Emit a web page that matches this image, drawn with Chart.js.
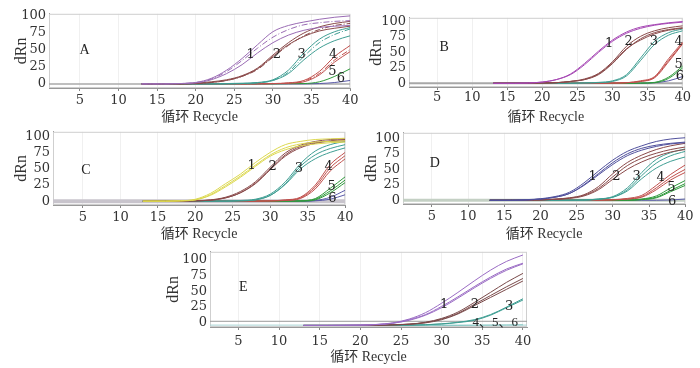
<!DOCTYPE html>
<html>
<head>
<meta charset="utf-8">
<script src="https://cdn.jsdelivr.net/npm/chart.js@4"></script>
<style>
body { margin: 0; background: #fff; width: 700px; height: 368px; position: relative; overflow: hidden; }
canvas { position: absolute; }
</style>
</head>
<body>
<script>
const cycles = [13, 16, 18, 20, 22, 24, 26, 28, 30, 32, 34, 36, 38, 40];
const xTitle = '循环 Recycle';
const yTitle = 'dRn';
const groupNames = ['1', '2', '3', '4', '5', '6'];

// panel A, replicates per dilution group
const A1 = [[0,0,0.5,2,8,20,37,57,76,85,90,94,97,99],
            [0,0,0.5,2,7,18,34,52,68,79,86,89,91,92],
            [0,0,0.5,1.5,6,15,28,45,60,71,78,82,84,85]];
const A2 = [[0,0,0,1,3,6,12,23,42,60,74,83,88,91],
            [0,0,0,0.5,2,5,11,21,39,56,70,79,85,88],
            [0,0,0,0.5,2,5,11,22,40,57,69,77,81,84]];
const A3 = [[0,0,0,0,0,0.5,1,2,6,20,45,65,76,82],
            [0,0,0,0,0,0,0.5,1.5,5,17,40,60,72,80],
            [0,0,0,0,0,0,0.5,1.5,5,15,35,52,63,70]];
const A4 = [[0,0,0,0,0,0,0,0.3,0.5,1.5,5,18,40,56],
            [0,0,0,0,0,0,0,0,0.5,1,4,15,35,50],
            [0,0,0,0,0,0,0,0,0.3,1,3,13,32,47]];
const A5 = [[0,0,0,0,0,0,0,0,0,0.3,0.5,3,11,22]];
const A6 = [[0,0,0,0,0,0,0,0,0,0,0,0.5,2,5]];

// panel B
const B1 = [[0,0,0.5,2,6,15,32,52,70,83,91,95,98,100],
            [0,0,0.5,2,6,14,30,50,68,81,89,94,97,99]];
const B2 = [[0,0,0,0.5,1,3,7,16,35,60,76,85,90,93],
            [0,0,0,0.5,1,3,6,14,32,55,72,82,87,90],
            [0,0,0,0.5,1,3,6,15,33,56,70,80,86,89]];
const B3 = [[0,0,0,0,0,0,0.5,1.5,4,14,41,68,82,88],
            [0,0,0,0,0,0,0.5,1,3,12,37,63,78,85]];
const B4 = [[0,0,0,0,0,0,0,0,0.5,1,4,11,40,67],
            [0,0,0,0,0,0,0,0,0.3,1,3,9,35,64],
            [0,0,0,0,0,0,0,0,0.3,1,3,10,37,65]];
const B5 = [[0,0,0,0,0,0,0,0,0,0,0.3,1.5,10,28],
            [0,0,0,0,0,0,0,0,0,0,0.3,1,8,25]];
const B6 = [[0,0,0,0,0,0,0,0,0,0,0,1,4,11]];

// panel C
const C1 = [[0,0,0.5,3,12,27,42,60,76,88,93,96,97,98],
            [0,0,0.5,2,10,24,39,56,72,83,89,92,93,94],
            [0,0,0.5,2,9,22,37,54,70,80,86,89,91,92]];
const C2 = [[0,0,0,0.5,2,6,15,30,53,75,87,93,96,97],
            [0,0,0,0.5,1.5,5,13,27,49,70,83,90,94,96],
            [0,0,0,0.5,1.5,5,13,28,50,72,85,91,93,94]];
const C3 = [[0,0,0,0,0,0,1,3,11,30,58,78,88,93],
            [0,0,0,0,0,0,0.5,2,9,27,54,72,82,88],
            [0,0,0,0,0,0,0.5,2,9,26,50,66,76,83]];
const C4 = [[0,0,0,0,0,0,0,0,0.5,2,6,25,57,76],
            [0,0,0,0,0,0,0,0,0.5,1.5,5,22,52,71],
            [0,0,0,0,0,0,0,0,0.3,1,4,19,47,66]];
const C5 = [[0,0,0,0,0,0,0,0,0,0,0.5,4,20,38],
            [0,0,0,0,0,0,0,0,0,0,0.5,3,16,33],
            [0,0,0,0,0,0,0,0,0,0,0,2,13,29]];
const C6 = [[0,0,0,0,0,0,0,0,0,0,0,1,6,17],
            [0,0,0,0,0,0,0,0,0,0,0,0.5,3,10]];

// panel D
const D1 = [[0,0,1,2.5,6,13,28,47,65,79,88,95,99,101],
            [0,0,0.5,2,5,11,25,43,61,75,84,89,92,94],
            [0,0,0.5,2,5,11,24,41,58,72,81,87,91,93]];
const D2 = [[0,0,0,0.5,2,4,9,22,43,61,73,82,88,92],
            [0,0,0,0.5,1.5,3.5,8,19,38,56,68,76,82,86],
            [0,0,0,0.5,1.5,3,7,17,34,50,62,71,78,82]];
const D3 = [[0,0,0,0,0,0,0.5,2,6,20,45,66,77,83],
            [0,0,0,0,0,0,0.5,2,5,17,40,60,72,79],
            [0,0,0,0,0,0,0,1.5,5,15,35,52,63,70]];
const D4 = [[0,0,0,0,0,0,0,0.5,1,3,8,24,42,57],
            [0,0,0,0,0,0,0,0,1,2,6,20,37,50],
            [0,0,0,0,0,0,0,0,0.5,2,5,17,33,45]];
const D5 = [[0,0,0,0,0,0,0,0,0,0.5,2,7,20,32],
            [0,0,0,0,0,0,0,0,0,0,1.5,5,16,27],
            [0,0,0,0,0,0,0,0,0,0,1,4,14,24]];
const D6 = [[0,0,0,0,0,0,0,0,0,0,0,0,0.5,2]];

// panel E (baseline sits below zero)
const E1 = [[-4,-4,-3.8,-3.5,-2.5,0,6,16,31,48,66,83,97,107],
            [-4,-4,-3.8,-3.5,-2.5,-0.5,5,13,26,41,57,72,85,94],
            [-4,-4,-3.8,-3.5,-2.8,-0.5,4,12,24,39,55,70,83,93]];
const E2 = [[-4,-4,-4,-4,-3.8,-3,-2,1,7,17,32,48,64,78],
            [-4,-4,-4,-4,-3.8,-3,-2,0.5,6,15,29,43,57,70],
            [-4,-4,-4,-4,-3.8,-3.2,-2.2,0,5,14,27,40,53,66]];
const E3 = [[-4,-4,-4,-4,-4,-4,-3.5,-3,-1.5,1,5,13,25,38],
            [-4,-4,-4,-4,-4,-4,-3.5,-3,-1.8,0.5,4,12,24,36]];
const E456 = [[-4,-4,-4,-4,-4,-4,-4,-4,-4,-4,-3.8,-3.6,-3.4,-3]];

const brown = '#8a4a4a', teal = '#3f9e93', red = '#c0504d', green = '#2f9a3c', blue = '#5a5aa8';

const panels = [
  { name: 'A', rect: [49, 9, 352, 88], x: [1, 40], y: [-6, 102],
    groups: [A1, A2, A3, A4, A5, A6],
    colors: ['#9a6cb4', brown, teal, red, green, blue],
    base: [{ v: 0, c: '#aaaaaa', w: 1.5 }],
    tickY: 100, titleY: 117, yTitleX: 22, letter: [5.6, 48.5],
    nums: [[27.1, 43], [30.5, 43], [33.7, 43], [37.8, 43], [37.7, 18], [38.8, 7]] },
  { name: 'B', rect: [409, 13, 683, 87], x: [1, 40], y: [-6, 106],
    groups: [B1, B2, B3, B4, B5, B6],
    colors: ['#a648b4', brown, teal, red, green, blue],
    base: [{ v: 0, c: '#a8a8a8', w: 2 }],
    tickY: 97, titleY: 117, yTitleX: 377, letter: [6, 59],
    nums: [[29.5, 65], [32.3, 67], [35.9, 67], [39.4, 67], [39.4, 30], [39.6, 11]] },
  { name: 'C', rect: [53, 127, 347, 205], x: [1, 40], y: [-6, 108],
    groups: [C1, C2, C3, C4, C5, C6],
    colors: ['#dcd850', brown, teal, red, green, blue],
    base: [{ v: 0, c: '#c8c4cc', w: 4 }],
    tickY: 217, titleY: 234, yTitleX: 22, letter: [5.4, 48],
    nums: [[27.5, 56], [30.3, 54], [33.8, 51], [37.8, 54], [38.2, 22], [38.3, 4]] },
  { name: 'D', rect: [403, 128, 687, 204], x: [1, 40], y: [-6, 109],
    groups: [D1, D2, D3, D4, D5, D6],
    colors: ['#50509c', brown, teal, red, green, blue],
    base: [{ v: 0, c: '#c4d0c4', w: 3 }],
    tickY: 216, titleY: 234, yTitleX: 372, letter: [5.4, 59],
    nums: [[27.2, 39], [30.5, 38], [33.3, 38], [36.6, 36], [38.1, 21], [38.2, -1.5]] },
  { name: 'E', rect: [209.5, 247, 527, 327], x: [1.5, 40.5], y: [-6.5, 112],
    groups: [E1, E2, E3, E456],
    colors: ['#9a6cc4', '#7a4a4a', teal, '#88c8c4'],
    base: [{ v: 2.5, c: '#999999', w: 1 }, { v: -3.5, c: '#a8d4d4', w: 1 }],
    tickY: 341, titleY: 357, yTitleX: 173, letter: [5.6, 56],
    nums: [[30.3, 29], [34.1, 29], [38.3, 25], [36.6, 0]],
    numText: ['1', '2', '3', '4、5、6'] }
];

const serif = '"DejaVu Serif", serif';
const titleFont = '"Liberation Serif", "Noto Sans CJK SC", serif';

function makePanel(p) {
  const [l, t, r, b] = p.rect;
  const padTop = 6, padRight = 8, yW = 50, xH = 42;
  const cv = document.createElement('canvas');
  cv.width = r - l + yW + padRight;
  cv.height = b - t + padTop + xH;
  cv.style.left = (l - yW) + 'px';
  cv.style.top = (t - padTop) + 'px';
  document.body.appendChild(cv);

  const datasets = [];
  p.groups.forEach((g, gi) => {
    g.forEach((vals, ri) => {
      datasets.push({
        data: vals.map((v, i) => ({ x: cycles[i], y: v })),
        borderColor: p.colors[gi],
        borderWidth: 1,
        borderDash: (p.name === 'A' && ri === 1) ? [6, 2, 1, 2] : []
      });
    });
  });
  // baselines go last so they sit under the curves
  p.base.forEach(bl => {
    datasets.push({
      data: [{ x: p.x[0], y: bl.v }, { x: p.x[1], y: bl.v }],
      borderColor: bl.c,
      borderWidth: bl.w
    });
  });

  const texts = p.numText || groupNames;
  // x tick label top = axis + tickLength + padding; centre ~7.5px below
  const xTickPad = Math.max(0, p.tickY - 7.5 - b - 3);
  const xTitlePad = (b + xH) - p.titleY - 8.4;
  const yTitlePad = p.yTitleX - (l - yW) - 9.6;

  new Chart(cv, {
    type: 'line',
    data: { datasets },
    options: {
      responsive: false,
      animation: false,
      devicePixelRatio: 1,
      layout: { padding: { left: 0, top: padTop, right: padRight, bottom: 0 } },
      plugins: { legend: { display: false }, tooltip: { enabled: false } },
      elements: {
        point: { radius: 0 },
        line: { cubicInterpolationMode: 'monotone' }
      },
      scales: {
        x: {
          type: 'linear', min: p.x[0], max: p.x[1],
          afterFit: s => { s.height = xH; },
          afterBuildTicks: s => { s.ticks = s.ticks.filter(tk => tk.value % 5 === 0); },
          ticks: { stepSize: 5, includeBounds: false, autoSkip: false, maxRotation: 0,
                   padding: xTickPad, color: '#333', font: { family: serif, size: 13 } },
          grid: { color: 'rgba(0,0,0,0.06)', tickColor: '#888', tickLength: 3 },
          border: { color: '#999' },
          title: { display: true, text: xTitle, color: '#333',
                   font: { family: titleFont, size: 14 }, padding: { top: 0, bottom: xTitlePad } }
        },
        y: {
          min: p.y[0], max: p.y[1],
          afterFit: s => { s.width = yW; },
          afterBuildTicks: s => { s.ticks = s.ticks.filter(tk => tk.value % 25 === 0 && tk.value >= 0 && tk.value <= 100); },
          ticks: { stepSize: 25, includeBounds: false, autoSkip: false, padding: 3, color: '#333',
                   font: { family: serif, size: 13 } },
          grid: { display: false, drawTicks: false },
          border: { color: '#999' },
          title: { display: true, text: yTitle, color: '#333',
                   font: { family: titleFont, size: 16 }, padding: { top: yTitlePad, bottom: 0 } }
        }
      }
    },
    plugins: [{
      id: 'frameAndLabels',
      beforeDatasetsDraw(chart) {
        const { ctx, chartArea: a } = chart;
        ctx.save();
        ctx.strokeStyle = '#cfcfcf';
        ctx.lineWidth = 1;
        ctx.strokeRect(a.left + 0.5, a.top + 0.5, a.width - 1, a.height - 1);
        ctx.restore();
      },
      afterDatasetsDraw(chart) {
        const { ctx, scales: { x, y } } = chart;
        ctx.save();
        ctx.fillStyle = '#222';
        ctx.textAlign = 'center';
        ctx.textBaseline = 'middle';
        ctx.font = '14px ' + titleFont;
        ctx.fillText(p.name, x.getPixelForValue(p.letter[0]), y.getPixelForValue(p.letter[1]));
        p.nums.forEach((pos, i) => {
          const txt = texts[i];
          ctx.font = txt.length > 1 ? '13px ' + titleFont : '13px ' + serif;
          ctx.fillText(txt, x.getPixelForValue(pos[0]), y.getPixelForValue(pos[1]));
        });
        ctx.restore();
      }
    }]
  });
}

panels.forEach(makePanel);
</script>
</body>
</html>
